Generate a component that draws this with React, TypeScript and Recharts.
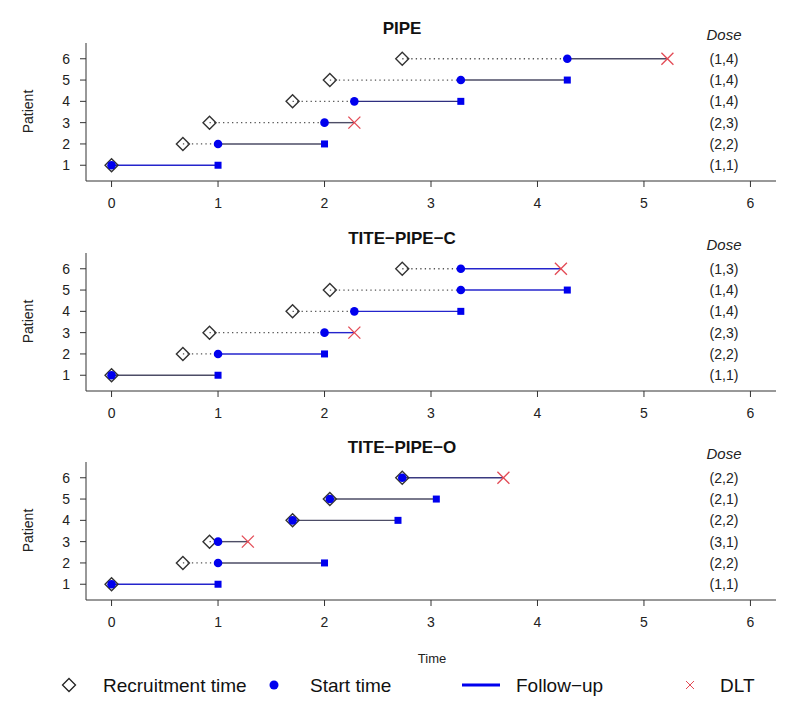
import React from 'react';
import { ScatterChart, Scatter, XAxis, YAxis } from 'recharts';

const FONT = '"Liberation Sans", Arial, sans-serif';

const patients = [1, 2, 3, 4, 5, 6];
const timeTicks = [0, 1, 2, 3, 4, 5, 6];

// PIPE
const pipeRecruit = [0, 0.67, 0.92, 1.7, 2.05, 2.73];
const pipeStart = [0, 1, 2, 2.28, 3.28, 4.28];
const pipeEnd = [1, 2, 2.28, 3.28, 4.28, 5.22];
const pipeDlt = [false, false, true, false, false, true];
const pipeDose = ['(1,1)', '(2,2)', '(2,3)', '(1,4)', '(1,4)', '(1,4)'];

// TITE-PIPE-C
const titeCRecruit = [0, 0.67, 0.92, 1.7, 2.05, 2.73];
const titeCStart = [0, 1, 2, 2.28, 3.28, 3.28];
const titeCEnd = [1, 2, 2.28, 3.28, 4.28, 4.22];
const titeCDlt = [false, false, true, false, false, true];
const titeCDose = ['(1,1)', '(2,2)', '(2,3)', '(1,4)', '(1,4)', '(1,3)'];

// TITE-PIPE-O
const titeORecruit = [0, 0.67, 0.92, 1.7, 2.05, 2.73];
const titeOStart = [0, 1, 1, 1.7, 2.05, 2.73];
const titeOEnd = [1, 2, 1.28, 2.69, 3.05, 3.68];
const titeODlt = [false, false, true, false, false, true];
const titeODose = ['(1,1)', '(2,2)', '(3,1)', '(2,2)', '(2,1)', '(2,2)'];

const titles = ['PIPE', 'TITE\u2212PIPE\u2212C', 'TITE\u2212PIPE\u2212O'];

const BLUE_LINE = '#2424cc';
const GRAY_LINE = '#4d4d66';
const pipeLineColors = [BLUE_LINE, GRAY_LINE, GRAY_LINE, '#2e2e80', GRAY_LINE, GRAY_LINE];
const titeCLineColors = [GRAY_LINE, BLUE_LINE, BLUE_LINE, BLUE_LINE, BLUE_LINE, BLUE_LINE];
const titeOLineColors = [BLUE_LINE, GRAY_LINE, GRAY_LINE, GRAY_LINE, GRAY_LINE, '#3a3a80'];

const PANEL_TOPS = [0, 210, 419];
const AXIS = '#333';
const RED = '#e34a55';
const BLUE = '#0000ee';

const Empty = () => <g />;

const Diamond = (props: any) => {
  const { cx, cy } = props;
  const r = 6.5;
  return (
    <path
      d={`M${cx},${cy - r} L${cx + r},${cy} L${cx},${cy + r} L${cx - r},${cy} Z`}
      fill="none"
      stroke="#333"
      strokeWidth={1.4}
    />
  );
};

const Dot = (props: any) => <circle cx={props.cx} cy={props.cy} r={4.3} fill={BLUE} />;

const Square = (props: any) => (
  <rect x={props.cx - 3.5} y={props.cy - 3.5} width={7} height={7} fill={BLUE} />
);

const Cross = (props: any) => {
  const { cx, cy } = props;
  const r = 6;
  return (
    <g stroke={RED} strokeWidth={1.3}>
      <line x1={cx - r} y1={cy - r} x2={cx + r} y2={cy + r} />
      <line x1={cx - r} y1={cy + r} x2={cx + r} y2={cy - r} />
    </g>
  );
};

type PanelProps = {
  recruit: number[];
  start: number[];
  end: number[];
  dlt: boolean[];
  dose: string[];
  lineColors: string[];
  top: number;
};

function Panel({ recruit, start, end, dlt, dose, lineColors, top }: PanelProps) {
  const recruitPts = patients.map((p, i) => ({ x: recruit[i], y: p }));
  const startPts = patients.map((p, i) => ({ x: start[i], y: p }));
  const endPts = patients.map((p, i) => ({ x: end[i], y: p })).filter((_, i) => !dlt[i]);
  const dltPts = patients.map((p, i) => ({ x: end[i], y: p })).filter((_, i) => dlt[i]);

  const yTick = (props: any) => {
    const { x, y, payload } = props;
    const idx = patients.indexOf(payload.value);
    return (
      <g>
        <text x={x} y={y} dy="0.36em" textAnchor="end" fontSize={14} fontFamily={FONT} fill="#222">
          {payload.value}
        </text>
        <text x={724} y={y} dy="0.36em" textAnchor="middle" fontSize={14} fontFamily={FONT} fill="#222">
          {dose[idx]}
        </text>
      </g>
    );
  };

  return (
    <div style={{ position: 'absolute', left: 0, top, width: 800, height: 210 }}>
      <ScatterChart width={800} height={210} margin={{ top: 43, right: 24, bottom: 0, left: 0 }}>
        <XAxis
          type="number"
          dataKey="x"
          domain={[-0.24, 6.24]}
          ticks={timeTicks}
          interval={0}
          allowDataOverflow
          height={29}
          tickSize={6}
          tickMargin={11}
          axisLine={{ stroke: AXIS }}
          tickLine={{ stroke: AXIS }}
          tick={{ fill: '#222', fontSize: 14, fontFamily: FONT }}
        />
        <YAxis
          type="number"
          dataKey="y"
          domain={[0.26, 6.74]}
          ticks={patients}
          interval={0}
          allowDataOverflow
          width={86}
          tickSize={6}
          tickMargin={10}
          axisLine={{ stroke: AXIS }}
          tickLine={{ stroke: AXIS }}
          tick={yTick}
        />
        {patients.map((p, i) =>
          recruit[i] < start[i] ? (
            <Scatter
              key={'wait' + i}
              data={[
                { x: recruit[i], y: p },
                { x: start[i], y: p },
              ]}
              line={{ stroke: '#555', strokeWidth: 1.3, strokeDasharray: '1.3 3.2' }}
              shape={Empty}
              isAnimationActive={false}
            />
          ) : null
        )}
        {patients.map((p, i) => (
          <Scatter
            key={'fu' + i}
            data={[
              { x: start[i], y: p },
              { x: end[i], y: p },
            ]}
            line={{ stroke: lineColors[i], strokeWidth: 1.4 }}
            shape={Empty}
            isAnimationActive={false}
          />
        ))}
        <Scatter data={recruitPts} shape={Diamond} isAnimationActive={false} />
        <Scatter data={startPts} shape={Dot} isAnimationActive={false} />
        <Scatter data={endPts} shape={Square} isAnimationActive={false} />
        <Scatter data={dltPts} shape={Cross} isAnimationActive={false} />
      </ScatterChart>
    </div>
  );
}

function Overlay() {
  return (
    <svg
      width={800}
      height={718}
      style={{ position: 'absolute', left: 0, top: 0, pointerEvents: 'none' }}
      fontFamily={FONT}
    >
      {PANEL_TOPS.map((t, k) => (
        <g key={k}>
          <text x={402} y={t + 33.6} textAnchor="middle" fontSize={17} fontWeight="bold" fill="#111">
            {titles[k]}
          </text>
          <text x={724} y={t + 39.5} textAnchor="middle" fontSize={15} fontStyle="italic" fill="#222">
            Dose
          </text>
          <text
            x={28}
            y={t + 111.5}
            textAnchor="middle"
            dominantBaseline="central"
            fontSize={14}
            fill="#222"
            transform={`rotate(-90 28 ${t + 111.5})`}
          >
            Patient
          </text>
        </g>
      ))}
      <text x={432} y={662.5} textAnchor="middle" fontSize={13} fill="#222">
        Time
      </text>
      <g>
        <path d="M69,678.5 L75.5,685 L69,691.5 L62.5,685 Z" fill="none" stroke="#222" strokeWidth={1.3} />
        <text x={103} y={691.7} fontSize={19} fill="#111">
          Recruitment time
        </text>
        <circle cx={274} cy={685} r={4.5} fill={BLUE} />
        <text x={310} y={691.7} fontSize={19} fill="#111">
          Start time
        </text>
        <line x1={462} y1={685} x2={500} y2={685} stroke={BLUE} strokeWidth={3} />
        <text x={516} y={691.7} fontSize={19} fill="#111">
          Follow{'\u2212'}up
        </text>
        <g stroke={RED} strokeWidth={1}>
          <line x1={686} y1={681} x2={694} y2={689} />
          <line x1={686} y1={689} x2={694} y2={681} />
        </g>
        <text x={720} y={691.7} fontSize={19} fill="#111">
          DLT
        </text>
      </g>
    </svg>
  );
}

export default function App() {
  return (
    <div style={{ position: 'absolute', left: 0, top: 0, width: 800, height: 718, background: '#fff' }}>
      <Panel
        recruit={pipeRecruit}
        start={pipeStart}
        end={pipeEnd}
        dlt={pipeDlt}
        dose={pipeDose}
        lineColors={pipeLineColors}
        top={PANEL_TOPS[0]}
      />
      <Panel
        recruit={titeCRecruit}
        start={titeCStart}
        end={titeCEnd}
        dlt={titeCDlt}
        dose={titeCDose}
        lineColors={titeCLineColors}
        top={PANEL_TOPS[1]}
      />
      <Panel
        recruit={titeORecruit}
        start={titeOStart}
        end={titeOEnd}
        dlt={titeODlt}
        dose={titeODose}
        lineColors={titeOLineColors}
        top={PANEL_TOPS[2]}
      />
      <Overlay />
    </div>
  );
}
